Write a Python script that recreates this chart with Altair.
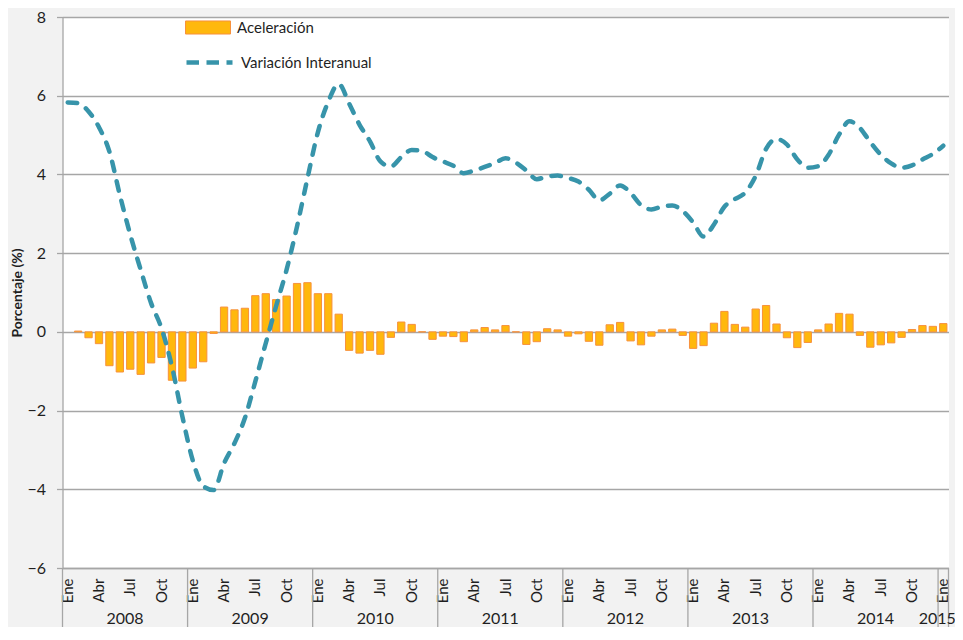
import json
import altair as alt
import pandas as pd

# ---------------- data ----------------
month_names = ["Ene", "Feb", "Mar", "Abr", "May", "Jun", "Jul", "Ago", "Sep", "Oct", "Nov", "Dic"]
years = ["2008", "2009", "2010", "2011", "2012", "2013", "2014", "2015"]
series_names = ["Aceleración", "Variación Interanual"]

aceleracion = [
    None, 0.02, -0.15, -0.30, -0.86, -1.02, -0.95, -1.08, -0.79, -0.65, -1.23, -1.25,   # 2008
    -0.92, -0.76, -0.04, 0.63, 0.56, 0.60, 0.92, 0.97, 0.82, 0.91, 1.23, 1.25,          # 2009
    0.97, 0.97, 0.45, -0.47, -0.54, -0.47, -0.57, -0.14, 0.25, 0.19, 0.00, -0.19,        # 2010
    -0.11, -0.12, -0.25, 0.05, 0.11, 0.05, 0.16, 0.00, -0.32, -0.25, 0.08, 0.05,         # 2011
    -0.11, -0.05, -0.24, -0.34, 0.18, 0.24, -0.23, -0.33, -0.11, 0.05, 0.07, -0.09,      # 2012
    -0.42, -0.35, 0.22, 0.52, 0.19, 0.12, 0.58, 0.67, 0.20, -0.15, -0.40, -0.27,         # 2013
    0.05, 0.20, 0.47, 0.45, -0.09, -0.39, -0.33, -0.28, -0.14, 0.06, 0.16, 0.14,         # 2014
    0.21,                                                                                 # 2015
]

variacion = [
    5.83, 5.81, 5.60, 5.20, 4.58, 3.48, 2.47, 1.58, 0.73, 0.09, -0.88, -2.15,            # 2008
    -3.27, -3.92, -4.02, -3.34, -2.83, -2.19, -1.26, -0.29, 0.66, 1.58, 2.68, 3.90,      # 2009
    5.07, 5.85, 6.30, 5.80, 5.26, 4.84, 4.33, 4.20, 4.44, 4.62, 4.60, 4.44,              # 2010
    4.33, 4.22, 4.03, 4.10, 4.19, 4.29, 4.41, 4.30, 4.10, 3.88, 3.95, 3.97,              # 2011
    3.91, 3.82, 3.61, 3.34, 3.51, 3.72, 3.53, 3.22, 3.11, 3.18, 3.21, 3.07,              # 2012
    2.78, 2.42, 2.73, 3.18, 3.37, 3.54, 3.96, 4.65, 4.90, 4.76, 4.38, 4.17,              # 2013
    4.21, 4.50, 5.01, 5.35, 5.18, 4.82, 4.50, 4.28, 4.17, 4.23, 4.38, 4.52,              # 2014
    4.73,                                                                                 # 2015
]

# ---------------- tables ----------------
n = len(variacion)
df = pd.DataFrame({"idx": list(range(n)), "acel": aceleracion, "var": variacion})
df["serie_a"] = series_names[0]
df["serie_v"] = series_names[1]

full_years = pd.DataFrame({"year": years[:-1], "idx": [12 * i + 6 for i in range(len(years) - 1)]})
last_year = pd.DataFrame({"year": [years[-1]], "idx": [12 * (len(years) - 1)]})
year_starts = pd.DataFrame({"idx": [12 * i for i in range(len(years))]})
year_end = pd.DataFrame({"idx": [n - 1]})

# ---------------- style ----------------
FONT = "Lato"
TXT = "#1f1f1f"
GRID = "#a6a6a6"
BAR_FILL = "#FFB80D"
BAR_STROKE = "#F7913D"
LINE = "#3794AA"
W, H = 886, 551

xs = alt.Scale(paddingInner=0, paddingOuter=0)
label_expr = f"datum.value % 3 == 0 ? {json.dumps(month_names)}[datum.value % 12] : ''"

x_axis = alt.Axis(
    title=None, labelAngle=270, labelExpr=label_expr, labelOverlap=False,
    ticks=False, domainColor=GRID, domainWidth=1.3, labelFontSize=15,
    labelColor=TXT, labelPadding=10, labelFont=FONT, grid=False,
)
y_axis = alt.Axis(
    values=[-6, -4, -2, 0, 2, 4, 6, 8], grid=True, gridColor=GRID, gridWidth=1.3,
    domainColor=GRID, domainWidth=1.3, tickColor=GRID, tickSize=6, tickWidth=1.3,
    labelFontSize=16, labelColor=TXT, labelPadding=11, labelFont=FONT,
    title="Porcentaje (%)", titleFontSize=14, titleFontWeight="bold", titleColor=TXT,
    titleFont=FONT, titleX=-45.5, titleY=H / 2, titleAngle=270, titleAlign="center",
    titleBaseline="middle",
)
y_scale = alt.Scale(domain=[-6, 8], nice=False)

bars = alt.Chart(df).mark_bar(
    width=alt.RelativeBandSize(band=0.7), stroke=BAR_STROKE, strokeWidth=1
).encode(
    x=alt.X("idx:O", scale=xs, axis=x_axis),
    y=alt.Y("acel:Q", scale=y_scale, axis=y_axis),
    fill=alt.Fill(
        "serie_a:N", scale=alt.Scale(range=[BAR_FILL]),
        legend=alt.Legend(
            title=None, orient="none", legendX=122.5, legendY=-12.5,
            symbolType="M-1,-0.29H1V0.29H-1Z", symbolSize=2025,
            symbolStrokeColor=BAR_STROKE, symbolStrokeWidth=1,
            labelFontSize=15, labelColor=TXT, labelFont=FONT, labelOffset=6, padding=0,
        ),
    ),
)

line = alt.Chart(df).mark_line(
    strokeWidth=4.5, strokeDash=[9.5, 10.5], strokeCap="round", interpolate="monotone"
).encode(
    x=alt.X("idx:O", scale=xs),
    y=alt.Y("var:Q", scale=y_scale),
    stroke=alt.Stroke(
        "serie_v:N", scale=alt.Scale(range=[LINE]),
        legend=alt.Legend(
            title=None, orient="none", legendX=121.5, legendY=20,
            symbolType="stroke", symbolSize=2116, symbolStrokeWidth=4.5,
            symbolDash=[12.5, 7.5], labelFontSize=15, labelColor=TXT, labelFont=FONT,
            labelOffset=6, padding=0,
        ),
    ),
)

seps = alt.Chart(year_starts).mark_rule(color=GRID, strokeWidth=1.3).encode(
    x=alt.X("idx:O", scale=xs, bandPosition=0),
    y=alt.value(H), y2=alt.value(H + 64),
)
sep_end = alt.Chart(year_end).mark_rule(color=GRID, strokeWidth=1.3).encode(
    x=alt.X("idx:O", scale=xs, bandPosition=1),
    y=alt.value(H), y2=alt.value(H + 64),
)

year_text = alt.Chart(full_years).mark_text(
    fontSize=16, font=FONT, color=TXT, baseline="middle", align="center"
).encode(
    x=alt.X("idx:O", scale=xs, bandPosition=0),
    y=alt.value(H + 51), text="year:N",
)
year_text_last = alt.Chart(last_year).mark_text(
    fontSize=16, font=FONT, color=TXT, baseline="middle", align="center", dx=-6
).encode(
    x=alt.X("idx:O", scale=xs, bandPosition=0.5),
    y=alt.value(H + 51), text="year:N",
)

chart = alt.layer(bars, line, seps, sep_end, year_text, year_text_last).resolve_legend(
    fill="independent", stroke="independent"
).properties(
    width=W, height=H,
    autosize=alt.AutoSizeParams(type="none"),
    padding={"left": 54.5, "top": 9, "right": 6.5, "bottom": 59},
    background="#f2f2f2",
).configure_view(fill="white", stroke="transparent")

chart.save("out.html", embed_options={"renderer": "svg", "actions": False})
